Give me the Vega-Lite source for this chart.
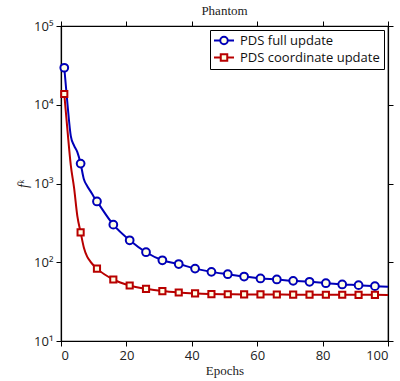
{
  "$schema": "https://vega.github.io/schema/vega-lite/v6.json",
  "width": 327,
  "height": 315,
  "autosize": {"type": "none"},
  "padding": {"left": 61, "top": 26, "right": 12, "bottom": 40},
  "background": "white",
  "title": {"text": "Phantom", "font": "Liberation Serif", "fontSize": 13, "fontWeight": "normal", "color": "#222", "offset": 2, "anchor": "middle"},
  "config": {
    "view": {"stroke": "black", "strokeWidth": 1.2},
    "axis": {"grid": false, "domainColor": "black", "tickColor": "black", "domainWidth": 1.2, "tickWidth": 1, "tickSize": 5, "labelFont": "Open Sans", "labelFontSize": 13, "labelColor": "#222", "titleFont": "Liberation Serif", "titleFontWeight": "normal", "titleFontSize": 13, "titleColor": "#222"}
  },
  "data": {"values": [
    {"epoch": 1, "value": 29500, "series": "PDS full update"},
    {"epoch": 2, "value": 10000, "series": "PDS full update"},
    {"epoch": 3, "value": 4000, "series": "PDS full update"},
    {"epoch": 4, "value": 3030, "series": "PDS full update"},
    {"epoch": 5, "value": 2500, "series": "PDS full update"},
    {"epoch": 6, "value": 1790, "series": "PDS full update"},
    {"epoch": 7, "value": 1130, "series": "PDS full update"},
    {"epoch": 8, "value": 930, "series": "PDS full update"},
    {"epoch": 9, "value": 800, "series": "PDS full update"},
    {"epoch": 10, "value": 680, "series": "PDS full update"},
    {"epoch": 11, "value": 592, "series": "PDS full update"},
    {"epoch": 16, "value": 300, "series": "PDS full update"},
    {"epoch": 21, "value": 190, "series": "PDS full update"},
    {"epoch": 26, "value": 134, "series": "PDS full update"},
    {"epoch": 31, "value": 106, "series": "PDS full update"},
    {"epoch": 36, "value": 95, "series": "PDS full update"},
    {"epoch": 41, "value": 83, "series": "PDS full update"},
    {"epoch": 46, "value": 75.5, "series": "PDS full update"},
    {"epoch": 51, "value": 70.5, "series": "PDS full update"},
    {"epoch": 56, "value": 65.9, "series": "PDS full update"},
    {"epoch": 61, "value": 62.2, "series": "PDS full update"},
    {"epoch": 66, "value": 60.4, "series": "PDS full update"},
    {"epoch": 71, "value": 58.1, "series": "PDS full update"},
    {"epoch": 76, "value": 56.5, "series": "PDS full update"},
    {"epoch": 81, "value": 54.2, "series": "PDS full update"},
    {"epoch": 86, "value": 52.2, "series": "PDS full update"},
    {"epoch": 91, "value": 51.2, "series": "PDS full update"},
    {"epoch": 96, "value": 49.7, "series": "PDS full update"},
    {"epoch": 100, "value": 48.9, "series": "PDS full update"},
    {"epoch": 1, "value": 13700, "series": "PDS coordinate update"},
    {"epoch": 2, "value": 4620, "series": "PDS coordinate update"},
    {"epoch": 3, "value": 1700, "series": "PDS coordinate update"},
    {"epoch": 4, "value": 880, "series": "PDS coordinate update"},
    {"epoch": 5, "value": 386, "series": "PDS coordinate update"},
    {"epoch": 6, "value": 240, "series": "PDS coordinate update"},
    {"epoch": 7, "value": 153, "series": "PDS coordinate update"},
    {"epoch": 8, "value": 118, "series": "PDS coordinate update"},
    {"epoch": 9, "value": 102, "series": "PDS coordinate update"},
    {"epoch": 10, "value": 91, "series": "PDS coordinate update"},
    {"epoch": 11, "value": 83, "series": "PDS coordinate update"},
    {"epoch": 16, "value": 60.4, "series": "PDS coordinate update"},
    {"epoch": 21, "value": 50.7, "series": "PDS coordinate update"},
    {"epoch": 26, "value": 46, "series": "PDS coordinate update"},
    {"epoch": 31, "value": 43, "series": "PDS coordinate update"},
    {"epoch": 36, "value": 41.3, "series": "PDS coordinate update"},
    {"epoch": 41, "value": 40.2, "series": "PDS coordinate update"},
    {"epoch": 46, "value": 39.4, "series": "PDS coordinate update"},
    {"epoch": 51, "value": 39.2, "series": "PDS coordinate update"},
    {"epoch": 56, "value": 39.0, "series": "PDS coordinate update"},
    {"epoch": 61, "value": 39.0, "series": "PDS coordinate update"},
    {"epoch": 66, "value": 38.9, "series": "PDS coordinate update"},
    {"epoch": 71, "value": 38.8, "series": "PDS coordinate update"},
    {"epoch": 76, "value": 38.8, "series": "PDS coordinate update"},
    {"epoch": 81, "value": 38.7, "series": "PDS coordinate update"},
    {"epoch": 86, "value": 38.7, "series": "PDS coordinate update"},
    {"epoch": 91, "value": 38.6, "series": "PDS coordinate update"},
    {"epoch": 96, "value": 38.6, "series": "PDS coordinate update"},
    {"epoch": 100, "value": 38.5, "series": "PDS coordinate update"}
  ]},
  "layer": [
    {
      "mark": {"type": "line", "interpolate": "monotone", "strokeWidth": 2},
      "encoding": {
        "x": {"field": "epoch", "type": "quantitative", "scale": {"domain": [0, 100], "nice": false}, "axis": {"orient": "bottom", "title": "Epochs", "values": [0, 20, 40, 60, 80, 100], "labelPadding": 3, "titlePadding": 2}},
        "y": {"field": "value", "type": "quantitative", "scale": {"type": "log", "domain": [10, 100000], "nice": false}, "axis": {"orient": "left", "title": "fᵏ", "titleFontStyle": "italic", "titleFontSize": 14, "values": [10, 100, 1000, 10000, 100000], "labelExpr": "datum.value == 10 ? '10¹' : datum.value == 100 ? '10²' : datum.value == 1000 ? '10³' : datum.value == 10000 ? '10⁴' : '10⁵'", "labelPadding": 3, "titlePadding": 3}},
        "color": {"field": "series", "type": "nominal", "scale": {"domain": ["PDS full update", "PDS coordinate update"], "range": ["#0000b8", "#b80000"]},
          "legend": {"title": null, "orient": "top-right", "offset": 4, "strokeColor": "black", "fillColor": "white", "padding": 4, "rowPadding": 1, "labelFont": "Open Sans", "labelFontSize": 13, "labelColor": "#111", "labelOffset": 13, "symbolSize": 100, "symbolStrokeWidth": 2,
            "encode": {"symbols": {"update": {"shape": {"signal": "datum.value == 'PDS full update' ? 'M-2,0H-0.75M0.75,0H2M-0.75,0A0.75,0.75,0,1,1,0.75,0A0.75,0.75,0,1,1,-0.75,0Z' : 'M-2,0H-0.65M0.65,0H2M-0.65,-0.65H0.65V0.65H-0.65Z'"}, "fill": {"value": "#ffffe6"}, "fillOpacity": {"value": 1}, "strokeWidth": {"value": 2}, "x": {"value": 10}}}}}
        }
      }
    },
    {
      "transform": [{"filter": "(datum.epoch - 1) % 5 == 0"}],
      "encoding": {
        "x": {"field": "epoch", "type": "quantitative", "scale": {"domain": [0, 100], "nice": false}, "axis": {"orient": "top", "labels": false, "title": null, "values": [0, 20, 40, 60, 80, 100]}},
        "y": {"field": "value", "type": "quantitative", "scale": {"type": "log", "domain": [10, 100000], "nice": false}, "axis": {"orient": "right", "labels": false, "title": null, "values": [10, 100, 1000, 10000, 100000]}}
      },
      "layer": [
        {
          "transform": [{"filter": "datum.series == 'PDS full update'"}],
          "mark": {"type": "point", "shape": "circle", "size": 60, "filled": false, "fill": "#ffffe6", "fillOpacity": 1, "stroke": "#0000b8", "strokeWidth": 2, "opacity": 1}
        },
        {
          "transform": [{"filter": "datum.series == 'PDS coordinate update'"}],
          "mark": {"type": "point", "shape": "square", "size": 38, "filled": false, "fill": "#ffffe6", "fillOpacity": 1, "stroke": "#b80000", "strokeWidth": 2, "opacity": 1}
        }
      ]
    }
  ],
  "resolve": {"scale": {"x": "independent", "y": "independent"}, "axis": {"x": "independent", "y": "independent"}}
}
